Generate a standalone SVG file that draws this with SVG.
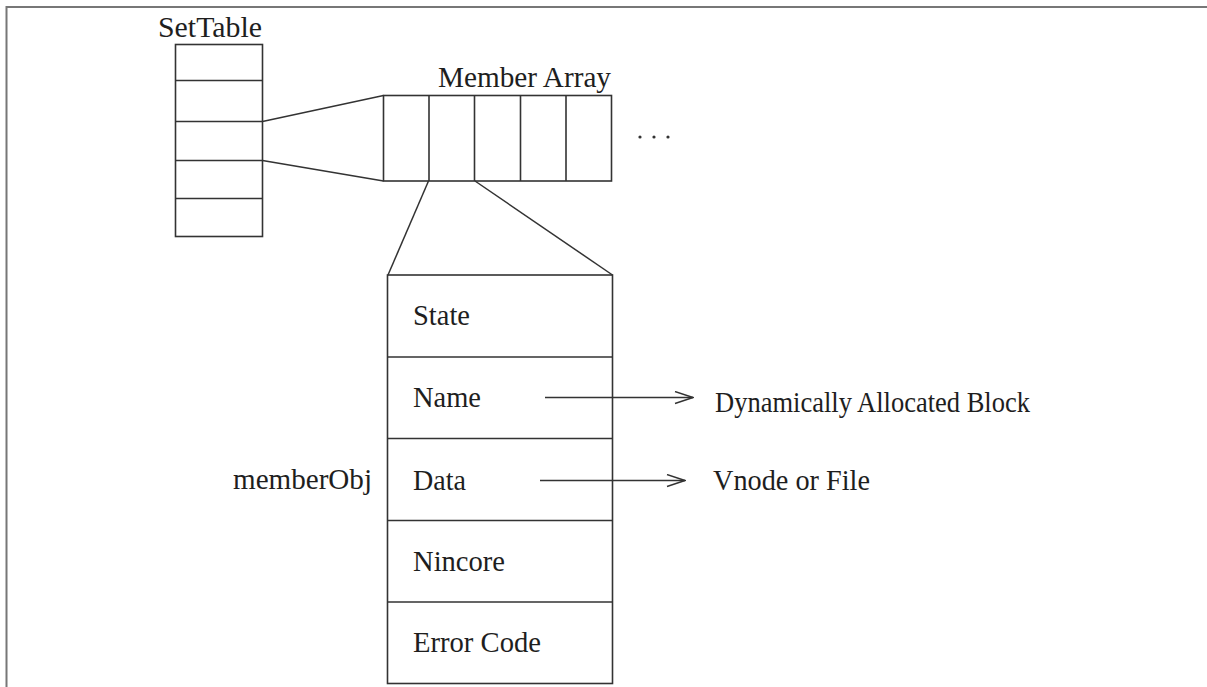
<svg xmlns="http://www.w3.org/2000/svg" width="1207" height="687" viewBox="0 0 1207 687">
  <style>
    .box { fill: none; stroke: #333; stroke-width: 1.6; }
    .ln { fill: none; stroke: #333; stroke-width: 1.5; }
    .lbl { font-family: "Liberation Serif", "Times New Roman", serif; font-size: 29px; fill: #1e1e1e; }
    .frame { fill: none; stroke: #777; stroke-width: 2; }
  </style>
  <defs>
    <marker id="open" viewBox="0 0 20 14" refX="19" refY="7" markerWidth="20" markerHeight="14" markerUnits="userSpaceOnUse" orient="auto">
      <path d="M1,1 L19,7 L1,13" fill="none" stroke="#333" stroke-width="1.4"/>
    </marker>
  </defs>
  <rect width="1207" height="687" fill="#fff"/>

  <!-- page frame (top and left edges) -->
  <path class="frame" d="M6.5,687 V7 H1207"/>

  <!-- set table -->
  <g id="setTable">
    <text class="lbl" x="158" y="37" textLength="104" lengthAdjust="spacingAndGlyphs">SetTable</text>
    <rect class="box" x="175.5" y="44.5" width="87" height="192"/>
    <path class="box" d="M175.5,80.5 H262.5 M175.5,121.5 H262.5 M175.5,160.5 H262.5 M175.5,198.5 H262.5"/>
  </g>

  <!-- member array -->
  <g id="memberArray">
    <text class="lbl" x="438" y="87" textLength="173" lengthAdjust="spacingAndGlyphs">Member Array</text>
    <rect class="box" x="383.5" y="95.5" width="228" height="85.5"/>
    <path class="box" d="M429,95.5 V181 M474.5,95.5 V181 M520.5,95.5 V181 M566,95.5 V181"/>
    <g fill="#333">
      <circle cx="640" cy="137" r="1.6"/>
      <circle cx="654" cy="137" r="1.6"/>
      <circle cx="668" cy="137" r="1.6"/>
    </g>
  </g>

  <!-- member object -->
  <g id="memberObj">
    <text class="lbl" x="233" y="489" textLength="139" lengthAdjust="spacingAndGlyphs">memberObj</text>
    <rect class="box" x="387.5" y="275" width="225" height="408.5"/>
    <path class="box" d="M387.5,357 H612.5 M387.5,438.5 H612.5 M387.5,520.5 H612.5 M387.5,602 H612.5"/>
    <text class="lbl" x="413" y="325" textLength="57" lengthAdjust="spacingAndGlyphs">State</text>
    <text class="lbl" x="413" y="407" textLength="68" lengthAdjust="spacingAndGlyphs">Name</text>
    <text class="lbl" x="413" y="490" textLength="53" lengthAdjust="spacingAndGlyphs">Data</text>
    <text class="lbl" x="413" y="571" textLength="92" lengthAdjust="spacingAndGlyphs">Nincore</text>
    <text class="lbl" x="413" y="652" textLength="128" lengthAdjust="spacingAndGlyphs">Error Code</text>
  </g>

  <!-- targets -->
  <g id="nameTarget">
    <text class="lbl" x="715" y="412" textLength="315" lengthAdjust="spacingAndGlyphs">Dynamically Allocated Block</text>
  </g>
  <g id="dataTarget">
    <text class="lbl" x="713" y="490" textLength="157" lengthAdjust="spacingAndGlyphs">Vnode or File</text>
  </g>

  <!-- connectors -->
  <g id="connectors">
    <path class="ln" d="M262.5,121.5 L383.5,95.5"/>
    <path class="ln" d="M262.5,160.5 L383.5,181"/>
    <path class="ln" d="M428.5,181 L388,275"/>
    <path class="ln" d="M475,181 L612.5,275"/>
    <path class="ln" d="M545,397.5 H693" marker-end="url(#open)"/>
    <path class="ln" d="M540,480.5 H685" marker-end="url(#open)"/>
  </g>
</svg>
